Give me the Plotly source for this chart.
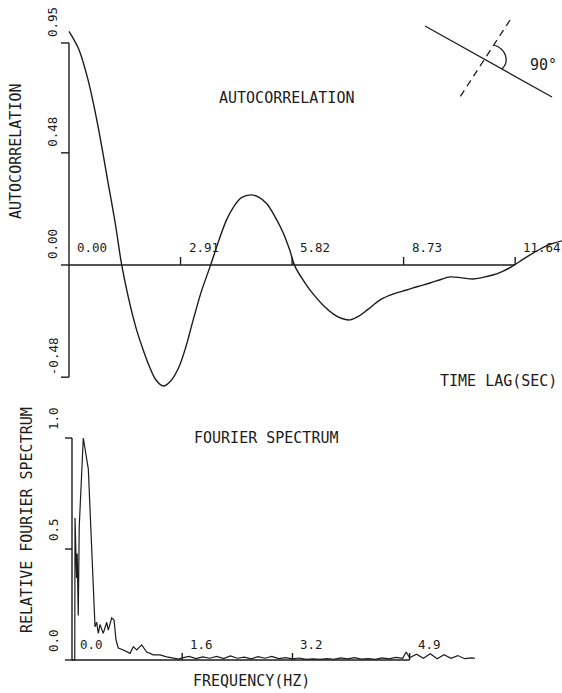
import plotly.graph_objects as go

# ---------------- data ----------------
# Autocorrelation (top panel)
lag = [0.00, 0.25, 0.50, 0.75, 1.00, 1.20, 1.375, 1.55, 1.75, 1.95, 2.10, 2.26, 2.46,
       2.66, 2.86, 3.05, 3.24, 3.45, 3.68, 3.90, 4.11, 4.30, 4.50, 4.75, 4.95, 5.16,
       5.38, 5.59, 5.75, 5.90, 6.15, 6.40, 6.65, 6.90, 7.10, 7.33, 7.55, 7.80, 8.11,
       8.45, 8.81, 9.10, 9.42, 9.70, 9.94, 10.25, 10.54, 10.80, 11.06, 11.30, 11.55,
       11.85, 12.11, 12.50, 12.86]
acf = [1.000, 0.925, 0.790, 0.600, 0.370, 0.185, 0.000, -0.140, -0.270, -0.370, -0.435,
       -0.490, -0.518, -0.495, -0.440, -0.350, -0.235, -0.115, -0.007, 0.100, 0.193,
       0.250, 0.288, 0.300, 0.290, 0.262, 0.205, 0.137, 0.068, -0.007, -0.075, -0.130,
       -0.175, -0.210, -0.228, -0.235, -0.220, -0.190, -0.150, -0.125, -0.107, -0.092,
       -0.077, -0.062, -0.051, -0.055, -0.060, -0.053, -0.043, -0.028, -0.007, 0.025,
       0.051, 0.085, 0.103]
lag_ticks = [0.00, 2.91, 5.82, 8.73, 11.64]
lag_tick_labels = ["0.00", "2.91", "5.82", "8.73", "11.64"]
acf_ticks = [0.95, 0.48, 0.00, -0.48]
acf_tick_labels = ["0.95", "0.48", "0.00", "-0.48"]

# Relative Fourier spectrum (bottom panel)
freq = [0.000, 0.040, 0.044, 0.066, 0.075, 0.091, 0.105, 0.164, 0.237, 0.286, 0.334,
        0.358, 0.382, 0.406, 0.454, 0.504, 0.527, 0.576, 0.610, 0.639, 0.672, 0.745,
        0.842, 0.890, 0.939, 1.012, 1.084, 1.180, 1.277, 1.374, 1.47, 1.55,
        1.60, 1.70, 1.80, 1.90, 2.00, 2.10, 2.20, 2.30, 2.40, 2.50, 2.60, 2.70, 2.80,
        2.90, 3.00, 3.10, 3.20, 3.30, 3.40, 3.50, 3.60, 3.70, 3.80, 3.90, 4.00, 4.10,
        4.20, 4.30, 4.40, 4.50, 4.60, 4.70, 4.80, 4.85, 4.90, 5.00, 5.10, 5.20, 5.30,
        5.40, 5.50, 5.60, 5.70, 5.80, 5.85]
spec = [0.000, 0.000, 0.640, 0.370, 0.480, 0.200, 0.600, 1.000, 0.860, 0.480, 0.150,
        0.170, 0.120, 0.160, 0.120, 0.170, 0.135, 0.190, 0.180, 0.090, 0.054, 0.045,
        0.030, 0.060, 0.045, 0.068, 0.036, 0.023, 0.023, 0.014, 0.008, 0.004,
        0.010, 0.016, 0.006, 0.014, 0.008, 0.016, 0.006, 0.018, 0.008, 0.013, 0.005,
        0.015, 0.008, 0.016, 0.006, 0.011, 0.005, 0.009, 0.003, 0.005, 0.003, 0.006,
        0.003, 0.010, 0.005, 0.011, 0.004, 0.006, 0.003, 0.010, 0.005, 0.012, 0.008,
        0.036, 0.010, 0.026, 0.008, 0.028, 0.006, 0.024, 0.008, 0.020, 0.006, 0.010,
        0.008]
freq_ticks = [0.0, 1.6, 3.2, 4.9]
freq_tick_labels = ["0.0", "1.6", "3.2", "4.9"]
spec_ticks = [1.0, 0.5, 0.0]
spec_tick_labels = ["1.0", "0.5", "0.0"]

# ---------------- figure ----------------
W, H = 562, 693
INK = "#1c1c1c"
MONO = "DejaVu Sans Mono"

fig = go.Figure()
fig.add_trace(go.Scatter(x=lag, y=acf, mode="lines", xaxis="x", yaxis="y",
                         line=dict(color=INK, width=1.4, shape="spline", smoothing=1.0),
                         hoverinfo="skip", showlegend=False))
fig.add_trace(go.Scatter(x=freq, y=spec, mode="lines", xaxis="x2", yaxis="y2",
                         line=dict(color=INK, width=1.2),
                         hoverinfo="skip", showlegend=False))

split = 1 - 400 / H
fig.update_layout(
    width=W, height=H, margin=dict(l=0, r=0, t=0, b=0),
    paper_bgcolor="white", plot_bgcolor="white", showlegend=False,
    xaxis=dict(domain=[0, 1], range=[-1.800, 12.862], visible=False, anchor="y"),
    yaxis=dict(domain=[split, 1], range=[-0.5777, 1.1339], visible=False, anchor="x"),
    xaxis2=dict(domain=[0, 1], range=[-1.045, 7.112], visible=False, anchor="y2"),
    yaxis2=dict(domain=[0, split], range=[-0.1486, 1.1712], visible=False, anchor="x2"),
)

shapes = []
axline = dict(color=INK, width=1.4)

def axis_set(xr, yr, xticks, yticks, xend, ybot, ytop, tlen):
    # horizontal axis at 0
    shapes.append(dict(type="line", xref=xr, yref=yr, x0=0, x1=xend, y0=0, y1=0, line=axline))
    # vertical axis at 0
    shapes.append(dict(type="line", xref=xr, yref=yr, x0=0, x1=0, y0=ybot, y1=ytop, line=axline))
    for v in yticks:
        shapes.append(dict(type="line", xref=xr, yref=yr, xsizemode="pixel", xanchor=0,
                           x0=-tlen, x1=0, y0=v, y1=v, line=axline))
    for t in xticks:
        if t == 0:
            continue
        shapes.append(dict(type="line", xref=xr, yref=yr, ysizemode="pixel", yanchor=0,
                           x0=t, x1=t, y0=0, y1=tlen, line=axline))

axis_set("x", "y", lag_ticks, acf_ticks, lag_ticks[-1], min(acf_ticks), max(acf_ticks), 8)
axis_set("x2", "y2", freq_ticks, spec_ticks, freq_ticks[-1], 0, max(spec_ticks), 7)

# inset diagram (top right)
def px(x, y):
    return x / W, 1 - y / H

def pline(p0, p1, dash="solid"):
    (a, b), (c, d) = px(*p0), px(*p1)
    shapes.append(dict(type="line", xref="paper", yref="paper", x0=a, y0=b, x1=c, y1=d,
                       line=dict(color=INK, width=1.3, dash=dash)))

pline((425, 26), (552, 97))
pline((510, 20), (460, 97), dash="7px,5px")
pts = [px(494, 45), px(506, 49), px(510, 61), px(502, 69)]
path = "M {:.5f},{:.5f} C {:.5f},{:.5f} {:.5f},{:.5f} {:.5f},{:.5f}".format(
    *pts[0], *pts[1], *pts[2], *pts[3])
shapes.append(dict(type="path", xref="paper", yref="paper", path=path,
                   line=dict(color=INK, width=1.3)))
fig.update_layout(shapes=shapes)

# ---------------- text ----------------
anns = []

def ptext(text, x, y, size=15, angle=0, **kw):
    a, b = px(x, y)
    anns.append(dict(text=text, x=a, y=b, xref="paper", yref="paper", showarrow=False,
                     textangle=angle, font=dict(family=MONO, size=size, color=INK),
                     xanchor="center", yanchor="middle", **kw))

ptext("AUTOCORRELATION", 286, 98)
ptext("TIME LAG(SEC)", 498, 381)
ptext("AUTOCORRELATION", 16, 152, angle=-90)
ptext("FOURIER SPECTRUM", 266, 438)
ptext("FREQUENCY(HZ)", 251, 681)
ptext("RELATIVE FOURIER SPECTRUM", 27, 520, angle=-90)
ptext("90°", 543, 65, size=15)

TS = 12.5
for t, lab in zip(lag_ticks, lag_tick_labels):
    anns.append(dict(text=lab, x=t, y=0, xref="x", yref="y", showarrow=False,
                     xanchor="left", yanchor="middle", xshift=6, yshift=17,
                     font=dict(family=MONO, size=TS, color=INK)))
for v, lab in zip(acf_ticks, acf_tick_labels):
    anns.append(dict(text=lab, x=0, y=v, xref="x", yref="y", showarrow=False,
                     textangle=-90, xanchor="center", yanchor="middle",
                     xshift=-16, yshift=21, font=dict(family=MONO, size=TS, color=INK)))
for f, lab in zip(freq_ticks, freq_tick_labels):
    anns.append(dict(text=lab, x=f, y=0, xref="x2", yref="y2", showarrow=False,
                     xanchor="left", yanchor="middle", xshift=6, yshift=16,
                     font=dict(family=MONO, size=TS, color=INK)))
for v, lab in zip(spec_ticks, spec_tick_labels):
    anns.append(dict(text=lab, x=0, y=v, xref="x2", yref="y2", showarrow=False,
                     textangle=-90, xanchor="center", yanchor="middle",
                     xshift=-19, yshift=19, font=dict(family=MONO, size=TS, color=INK)))

fig.update_layout(annotations=anns)
fig.write_html("out.html")
